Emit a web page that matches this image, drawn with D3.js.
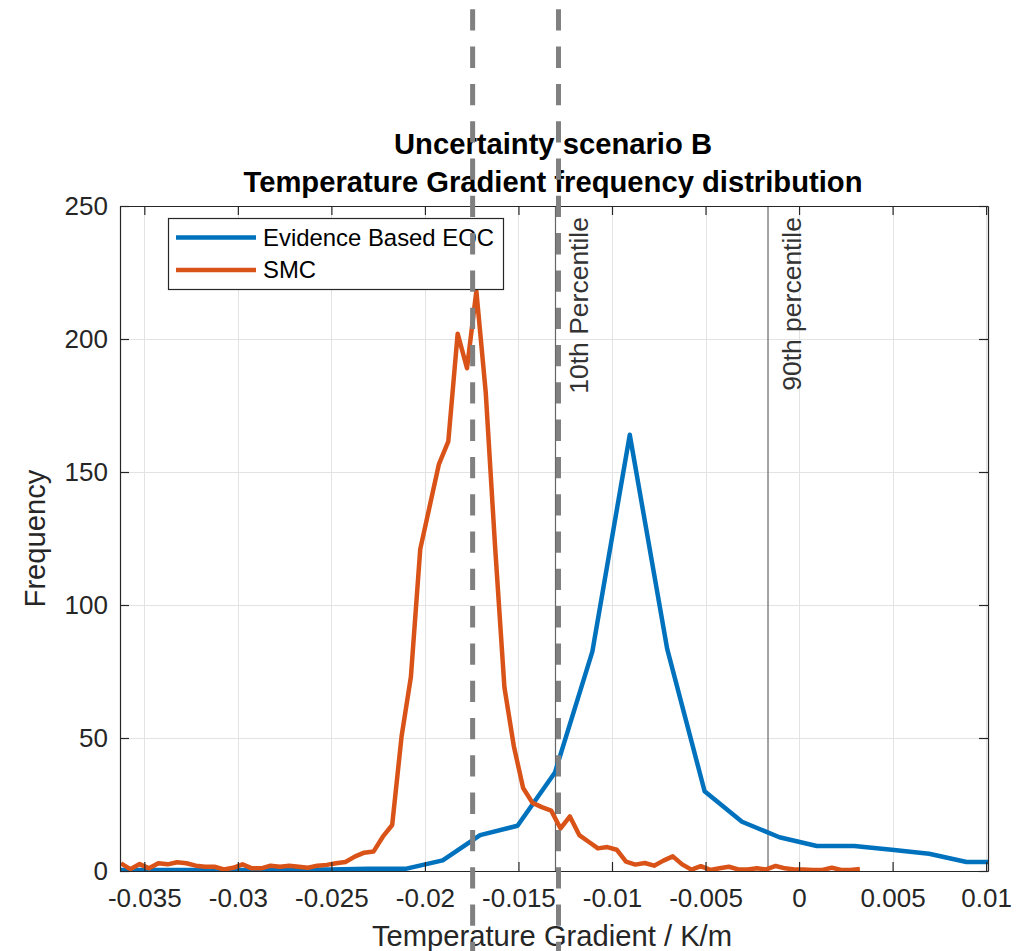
<!DOCTYPE html>
<html>
<head>
<meta charset="utf-8">
<script src="https://cdn.jsdelivr.net/npm/d3@7"></script>
<style>
  html, body { margin: 0; padding: 0; background: #fff; }
  svg { display: block; font-family: "Liberation Sans", Arial, sans-serif; }
</style>
</head>
<body>
<div id="chart"></div>
<script>
// Temperature gradient frequency distribution — uncertainty scenario B

const W = 1032, H = 951;
const margin = { left: 120, right: 1032 - 988, top: 206, bottom: 951 - 871 };

// Evidence Based EOC histogram (bin centres, counts)
const eocX = [-0.03705, -0.03505, -0.03305, -0.03105, -0.02905, -0.02705, -0.02505, -0.02305,
  -0.02105, -0.01905, -0.01705, -0.01505, -0.01305, -0.01105, -0.00905, -0.00705, -0.00505,
  -0.00305, -0.00105, 0.00095, 0.00295, 0.00495, 0.00695, 0.00895, 0.01095];
const eocY = [0.4, 0.4, 0.4, 0.4, 0.4, 0.5, 0.6, 0.8,
  0.8, 4, 13.5, 17, 37, 82.5, 164, 83.5, 30,
  18.5, 12.7, 9.4, 9.4, 8, 6.5, 3.4, 3.4];

// SMC histogram (bin centres, counts)
const smcX = [-0.03625, -0.03575, -0.03525, -0.03475, -0.03425, -0.03375, -0.03325, -0.03275,
  -0.03225, -0.03175, -0.03125, -0.03075, -0.03025, -0.02975, -0.02925, -0.02875, -0.02825,
  -0.02775, -0.02725, -0.02675, -0.02625, -0.02575, -0.02525, -0.02475, -0.02425, -0.02375,
  -0.02325, -0.02275, -0.02225, -0.02175, -0.02125, -0.02075, -0.02025, -0.01975, -0.01925,
  -0.01875, -0.01825, -0.01775, -0.01725, -0.01675, -0.01625, -0.01575, -0.01525, -0.01475,
  -0.01425, -0.01375, -0.01325, -0.01275, -0.01225, -0.01175, -0.01125, -0.01075, -0.01025,
  -0.00975, -0.00925, -0.00875, -0.00825, -0.00775, -0.00725, -0.00675, -0.00625, -0.00575,
  -0.00525, -0.00475, -0.00425, -0.00375, -0.00325, -0.00275, -0.00225, -0.00175, -0.00125,
  -0.00075, -0.00025, 0.00025, 0.00075, 0.00125, 0.00175, 0.00225, 0.00275, 0.00325];
const smcY = [2.9, 0.7, 2.6, 1.0, 2.9, 2.5, 3.3, 2.9,
  2.0, 1.6, 1.6, 0.6, 1.2, 2.5, 1.0, 1.0, 2.0,
  1.6, 2.0, 1.6, 1.2, 2.0, 2.3, 2.9, 3.4, 5.4,
  6.9, 7.3, 12.9, 17.3, 50.5, 73, 121, 137, 153,
  161.5, 202, 189, 218, 180, 122, 69, 47, 31.2,
  25.6, 24, 22.7, 16, 20.5, 13.5, 11, 8.5, 9,
  8, 3.5, 2.4, 3, 2, 3.9, 5.5, 2.5, 0.5,
  1.8, 0.4, 1, 1.6, 0.6, 0.6, 1, 0.6, 1.9,
  1, 0.6, 0.6, 0.4, 0.4, 1.2, 0.4, 0.4, 0.8];

const xTicks = [-0.035, -0.03, -0.025, -0.02, -0.015, -0.01, -0.005, 0, 0.005, 0.01];
const xTickLabels = ['-0.035', '-0.03', '-0.025', '-0.02', '-0.015', '-0.01', '-0.005', '0', '0.005', '0.01'];
const yTicks = [0, 50, 100, 150, 200, 250];

// percentile markers (thin) and the thick dashed markers
const percentiles = [
  { x: -0.01302, label: '10th Percentile' },
  { x: -0.00166, label: '90th percentile' }
];
const dashedX = [-0.01745, -0.01286];

const series = [
  { name: 'Evidence Based EOC', xs: eocX, ys: eocY, color: '#0072BD' },
  { name: 'SMC', xs: smcX, ys: smcY, color: '#D95319' }
];

const axisColor = '#262626';
const gridColor = '#e3e3e3';

const svg = d3.select('#chart').append('svg')
  .attr('width', W)
  .attr('height', H);

svg.append('rect').attr('width', W).attr('height', H).attr('fill', '#fff');

const x = d3.scaleLinear().domain([-0.0363, 0.0101]).range([margin.left, W - margin.right]);
const y = d3.scaleLinear().domain([0, 250]).range([H - margin.bottom, margin.top]);
const plotW = W - margin.left - margin.right;
const plotH = H - margin.top - margin.bottom;

svg.append('defs').append('clipPath').attr('id', 'plot-clip')
  .append('rect')
  .attr('x', margin.left).attr('y', margin.top)
  .attr('width', plotW).attr('height', plotH);

// grid
const grid = svg.append('g').attr('class', 'grid');
grid.selectAll('line.gx')
  .data(xTicks)
  .join('line')
  .attr('x1', d => Math.round(x(d)) + 0.5).attr('x2', d => Math.round(x(d)) + 0.5)
  .attr('y1', margin.top).attr('y2', H - margin.bottom)
  .attr('stroke', gridColor);
grid.selectAll('line.gy')
  .data(yTicks)
  .join('line')
  .attr('y1', d => Math.round(y(d)) + 0.5).attr('y2', d => Math.round(y(d)) + 0.5)
  .attr('x1', margin.left).attr('x2', W - margin.right)
  .attr('stroke', gridColor);

// thin percentile lines + labels
const pg = svg.append('g');
pg.selectAll('line')
  .data(percentiles)
  .join('line')
  .attr('x1', d => x(d.x)).attr('x2', d => x(d.x))
  .attr('y1', margin.top).attr('y2', H - margin.bottom)
  .attr('stroke', '#666')
  .attr('stroke-width', 1.2);
pg.selectAll('text')
  .data(percentiles)
  .join('text')
  .attr('transform', d => `translate(${x(d.x) + 33},${margin.top + 11}) rotate(-90)`)
  .attr('text-anchor', 'end')
  .attr('font-size', 26.5)
  .attr('fill', '#333')
  .text(d => d.label);

// data lines
const line = d3.line()
  .x(d => x(d[0]))
  .y(d => y(d[1]));

svg.append('g')
  .attr('clip-path', 'url(#plot-clip)')
  .selectAll('path')
  .data(series)
  .join('path')
  .attr('d', s => line(s.xs.map((v, i) => [v, s.ys[i]])))
  .attr('fill', 'none')
  .attr('stroke', s => s.color)
  .attr('stroke-width', 4.5)
  .attr('stroke-linejoin', 'round');

// axes (box with inward ticks)
const tickLen = 9;
const fmtX = (d) => xTickLabels[xTicks.indexOf(d)];

const gx = svg.append('g')
  .attr('transform', `translate(0,${H - margin.bottom})`)
  .call(d3.axisBottom(x).tickValues(xTicks).tickFormat(fmtX)
    .tickSizeInner(-tickLen).tickSizeOuter(0).tickPadding(17.5));
const gxTop = svg.append('g')
  .attr('transform', `translate(0,${margin.top})`)
  .call(d3.axisTop(x).tickValues(xTicks).tickFormat('')
    .tickSizeInner(-tickLen).tickSizeOuter(0));
const gy = svg.append('g')
  .attr('transform', `translate(${margin.left},0)`)
  .call(d3.axisLeft(y).tickValues(yTicks)
    .tickSizeInner(-tickLen).tickSizeOuter(0).tickPadding(12));
const gyRight = svg.append('g')
  .attr('transform', `translate(${W - margin.right},0)`)
  .call(d3.axisRight(y).tickValues(yTicks).tickFormat('')
    .tickSizeInner(-tickLen).tickSizeOuter(0));

[gx, gxTop, gy, gyRight].forEach(g => {
  g.selectAll('.domain').attr('stroke', axisColor).attr('stroke-width', 1.2);
  g.selectAll('.tick line').attr('stroke', axisColor).attr('stroke-width', 1.2);
  g.selectAll('.tick text')
    .attr('fill', axisColor)
    .attr('font-size', 26)
    .attr('font-family', '"Liberation Sans", Arial, sans-serif');
});

// axis labels
svg.append('text')
  .attr('x', 552).attr('y', 946)
  .attr('text-anchor', 'middle')
  .attr('font-size', 29.2)
  .attr('fill', axisColor)
  .text('Temperature Gradient / K/m');

svg.append('text')
  .attr('transform', `translate(45,${margin.top + plotH / 2}) rotate(-90)`)
  .attr('text-anchor', 'middle')
  .attr('font-size', 29.2)
  .attr('fill', axisColor)
  .text('Frequency');

// title
const title = svg.append('text')
  .attr('text-anchor', 'middle')
  .attr('font-size', 29.2)
  .attr('font-weight', 'bold')
  .attr('fill', '#000');
title.append('tspan').attr('x', 553).attr('y', 153.5).text('Uncertainty scenario B');
title.append('tspan').attr('x', 553).attr('y', 191.5).text('Temperature Gradient frequency distribution');

// legend
const leg = svg.append('g');
leg.append('rect')
  .attr('x', 168.5).attr('y', 218.5)
  .attr('width', 335).attr('height', 71)
  .attr('fill', '#fff')
  .attr('stroke', axisColor)
  .attr('stroke-width', 1.2);
const legRows = leg.selectAll('g.row')
  .data(series)
  .join('g')
  .attr('transform', (d, i) => `translate(0,${237.5 + i * 32.5})`);
legRows.append('line')
  .attr('x1', 176).attr('x2', 256)
  .attr('stroke', d => d.color)
  .attr('stroke-width', 4.5);
legRows.append('text')
  .attr('x', 263)
  .attr('dy', '0.35em')
  .attr('font-size', 23.9)
  .attr('fill', '#000')
  .text(d => d.name);

// thick dashed markers spanning the whole figure height
svg.append('g')
  .selectAll('line')
  .data(dashedX)
  .join('line')
  .attr('x1', d => x(d)).attr('x2', d => x(d))
  .attr('y1', 0).attr('y2', H)
  .attr('stroke', '#808080')
  .attr('stroke-width', 5)
  .attr('stroke-dasharray', '21.3 16')
  .attr('stroke-dashoffset', 28);
</script>
</body>
</html>
